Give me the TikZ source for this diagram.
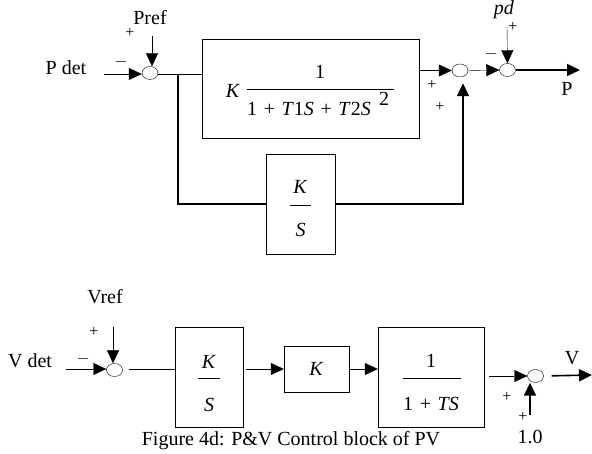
\documentclass[tikz,border=0pt]{standalone}
\usepackage{fontspec}
\setmainfont{Liberation Serif}
\usetikzlibrary{arrows.meta,positioning,shapes.geometric,calc}
\newcommand{\vv}[1]{\textit{#1}}
\newcommand{\pl}{\hspace{0.33em}+\hspace{0.33em}}

\begin{document}
\begin{tikzpicture}[x=1pt,y=-1pt,
  font=\fontsize{20}{24}\selectfont,
  sumj/.style={draw,ellipse,minimum width=16pt,minimum height=13pt,inner sep=0pt},
  blk/.style={draw,rectangle,inner sep=0pt},
  sig/.style={-{Triangle[length=13pt,width=12pt]}},
  sgn/.style={font=\fontsize{16}{18}\selectfont,inner sep=0pt},
  thk/.style={line width=1.6pt}]
  \useasboundingbox (0,0) rectangle (592,454);

  % upper loop: P control
  \node[sumj] (c1) at (150,73) {};
  \node[sumj] (c2) at (460,70.5) {};
  \node[sumj] (c3) at (507.5,70) {};
  \node[blk,minimum width=217pt,minimum height=99pt] (big) at (310.5,88.5) {};
  \node[blk,minimum width=69pt,minimum height=100pt] (ks) at (300.5,204) {};

  \node (pdet) at (66,68) {P det};
  \node (pref) at (150,18) {Pref};
  \node[inner sep=0pt] (pdlab) at (504,10) {\vv{pd}};
  \node (plab) at (567,89) {P};
  \node[sgn] (m1) at (121,62) {$-$};
  \node[sgn] (p1) at (130,33) {+};
  \node[sgn] (m3) at (491,54) {$-$};
  \node[sgn] (p3) at (513,27) {+};
  \node[sgn] (p2a) at (432,85) {+};
  \node[sgn] (p2b) at (440,107) {+};

  % transfer function of the big block
  \node (kbig) at (233,91) {\vv{K}};
  \node (numbig) at (320,72) {1};
  \node[anchor=west,inner sep=0pt] (denbig) at (247,109) {1\pl\vv{T}1\vv{S}\pl\vv{T}2\vv{S}};
  \node (sqbig) at (384,99) {2};
  \draw (247,89) -- (394,89);
  \node (kks) at (300.5,187) {\vv{K}};
  \node (sks) at (300.5,230) {\vv{S}};
  \draw (290,205) -- (311,205);

  \coordinate (pin) at (104,74);
  \coordinate (prefin) at (152,36);
  \coordinate (pdin) at (507,27);
  \coordinate (pout) at (580,70);
  \coordinate (br) at (178,74);

  \draw[sig] (pin) -- (pin -| c1.west);
  \draw[sig] (prefin) -- (prefin |- c1.north);
  \draw (c1.east |- br) -- (big.west |- br);
  \draw[thk] (br) |- (ks.west);
  \draw[thk,sig] (ks.east) -| ($(c2.south)+(3,6)$);
  \draw[sig] (big.east |- c2) -- (c2.west);
  \draw[sig] (c2.east) -- (c3.west);
  \draw[sig] (pdin) -- (c3.north);
  \draw[thk,sig] (c3.east) -- (pout);

  % lower loop: V control
  \node[sumj] (c4) at (114.5,370) {};
  \node[sumj] (c5) at (535.5,376) {};
  \node[blk,minimum width=68pt,minimum height=100pt] (lks) at (209,377) {};
  \node[blk,minimum width=65pt,minimum height=46pt] (kb) at (316.5,369) {};
  \node[blk,minimum width=106pt,minimum height=100pt] (tf) at (431,377) {};

  \node (vdet) at (30,361) {V det};
  \node (vref) at (105,297) {Vref};
  \node (vlab) at (572,358) {V};
  \node (one) at (530,437) {1.0};
  \node[sgn] (m4) at (83,359) {$-$};
  \node[sgn] (p4) at (94,332) {+};
  \node[sgn] (p5a) at (507,397) {+};
  \node[sgn] (p5b) at (523,417) {+};

  \node (klks) at (209,362) {\vv{K}};
  \node (slks) at (209,405) {\vv{S}};
  \draw (198,378) -- (220,378);
  \node (kkb) at (316.5,369) {\vv{K}};
  \node (numtf) at (431,361) {1};
  \node (dentf) at (431,404) {1\pl\vv{TS}};
  \draw (403,378) -- (461,378);

  \coordinate (vin) at (66,369);
  \coordinate (vrefin) at (113,327);
  \coordinate (onein) at (530,415);
  \coordinate (vout) at (592,375);

  \draw[sig] (vin) -- (vin -| c4.west);
  \draw[sig] (vrefin) -- (vrefin |- c4.north);
  \draw[shorten <=6pt] (c4.east |- vin) -- (lks.west |- vin);
  \draw[sig,shorten <=3pt] (lks.east |- kb) -- (kb.west);
  \draw[sig] (kb.east) -- (tf.west |- kb);
  \draw[sig,shorten <=5pt] (tf.east |- c5) -- (c5.west);
  \draw[thk,sig] (onein) -- (onein |- c5.south);
  \draw[thk,sig,shorten <=8pt] (c5.east) -- (vout);

  \node (cap) at (291,441) {Figure 4d: P\&V Control block of PV};
\end{tikzpicture}
\end{document}
